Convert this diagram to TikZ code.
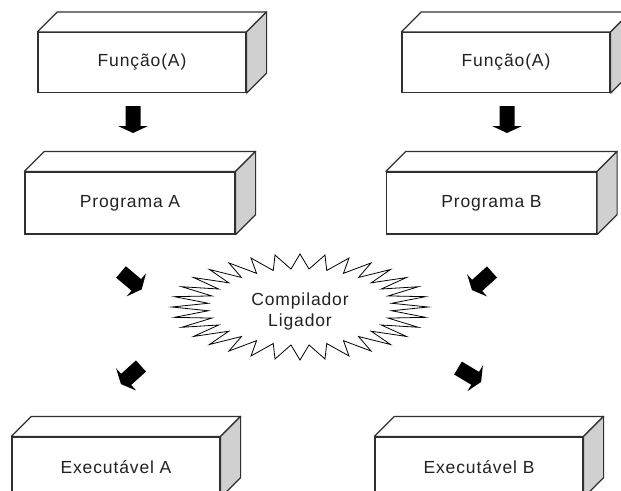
\documentclass[tikz,border=0pt]{standalone}
\usepackage{fontspec}
\setmainfont{Liberation Sans}
\newfontfamily\labelfont[LetterSpace=5]{Liberation Sans}
\begin{document}
\begin{tikzpicture}[x=1pt,y=-1pt,
  front/.style={draw=edge,fill=white,line width=1.2pt,minimum width=208pt,
    minimum height=60pt,inner sep=0pt,font=\labelfont\fontsize{17.5}{21}\selectfont,text=txt},
  face/.style={draw=edge,line width=1.2pt,line join=round},
  pics/blockarrow/.style={code={
    \fill[black] (0,-7.5) -- (20,-7.5) -- (20,-15) -- (27,0) -- (20,15)
      -- (20,7.5) -- (0,7.5) -- cycle;}}]
\definecolor{edge}{HTML}{303030}
\definecolor{txt}{HTML}{222222}
\definecolor{sideface}{HTML}{D0D0D0}
\path[use as bounding box,fill=white] (0,0) rectangle (621,490);
\clip (0,0) rectangle (621,490);

% front faces of the six boxes
\node[front] (fa) at (142,62.5) {Função(A)};
\node[front] (fb) at (506,62.5) {Função(A)};
\node[front,minimum width=210pt,minimum height=62pt] (pa) at (130,203) {Programa A};
\node[front,minimum width=210pt,minimum height=62pt] (pb) at (491.5,203) {Programa B};
\node[front] (ea) at (116,467) {Executável A};
\node[front] (eb) at (479,467) {Executável B};

% top and side faces give each box its depth
\foreach \n in {fa,fb,pa,pb,ea,eb}{
  \draw[face,fill=white] (\n.north west) -- ++(20,-20)
    -- ([shift={(20,-20)}]\n.north east) -- (\n.north east) -- cycle;
  \draw[face,fill=sideface] (\n.north east) -- ++(20,-20)
    -- ([shift={(20,-20)}]\n.south east) -- (\n.south east) -- cycle;
}

% 32-point burst round the compiler / linker
\node[align=center,font=\labelfont\fontsize{17.5}{21}\selectfont,text=txt] (cl) at (300,311)
  {Compilador\\Ligador};
\draw[black,line width=0.8pt,line join=miter] (300,254)
  \foreach \k in {1,...,63}{
    -- ({300+128*(1-0.28*mod(\k,2))*cos(\k*5.625+90)},
        {307-53*(1-0.28*mod(\k,2))*sin(\k*5.625+90)})
  } -- cycle;

% block arrows
\pic[rotate=-90] at (133,106) {blockarrow};
\pic[rotate=-90] at (507,106) {blockarrow};
\pic[rotate=-40] at (121,272) {blockarrow};
\pic[rotate=-138] at (492,272) {blockarrow};
\pic[rotate=-138] at (141,366) {blockarrow};
\pic[rotate=-31] at (458,368) {blockarrow};
\end{tikzpicture}
\end{document}
